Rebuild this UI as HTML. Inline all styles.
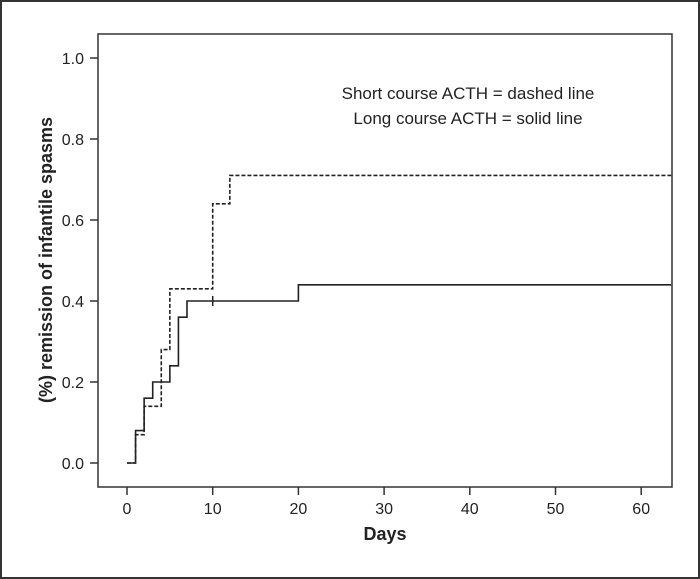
<!DOCTYPE html>
<html><head><meta charset="utf-8"><style>
html,body{margin:0;padding:0;background:#fff}
svg{display:block}
text{font-family:"Liberation Sans",sans-serif;fill:#222}
</style></head><body>
<svg width="700" height="579" viewBox="0 0 700 579">
<rect x="1" y="1" width="698" height="577" fill="#fff" stroke="#333" stroke-width="2"/>
<rect x="98" y="34" width="574" height="453" fill="none" stroke="#333" stroke-width="1.5"/>
<g id="axes"></g>
<g id="series"></g>
<text x="468" y="99" font-size="17" text-anchor="middle">Short course ACTH = dashed line</text>
<text x="468" y="124" font-size="17" text-anchor="middle">Long course ACTH = solid line</text>
<text x="385" y="540" font-size="18" font-weight="bold" text-anchor="middle">Days</text>
<text transform="translate(52,260) rotate(-90)" font-size="18" font-weight="bold" text-anchor="middle">(%) remission of infantile spasms</text>
</svg>
<script>
const xTicks=[0,10,20,30,40,50,60];
const yTicks=[0,0.2,0.4,0.6,0.8,1.0];
const yTickLabels=["0.0","0.2","0.4","0.6","0.8","1.0"];
const longDays=[0,1,2,3,5,6,7,20];
const longVals=[0,0.08,0.16,0.2,0.24,0.36,0.4,0.44];
const shortDays=[0,1,2,4,5,10,12];
const shortVals=[0,0.07,0.14,0.28,0.43,0.64,0.71];
const censorDays=[10];
const censorVals=[0.4];
const xMaxDay=63.5;
const NS="http://www.w3.org/2000/svg";
function sx(d){return 127+d*8.57;}
function sy(v){return 463-v*405;}
const axes=document.getElementById('axes');
const ser=document.getElementById('series');
function mk(tag,attrs,parent){const e=document.createElementNS(NS,tag);for(const k in attrs)e.setAttribute(k,attrs[k]);parent.appendChild(e);return e;}
xTicks.forEach(t=>{
  const l=mk('line',{x1:sx(t),x2:sx(t),y1:487,y2:495,stroke:'#333','stroke-width':1.5},axes);
  
  
  const tx=mk('text',{x:sx(t),y:514,'font-size':16,'text-anchor':'middle'},axes);
  tx.textContent=t;
  
  
});
yTicks.forEach((t,i)=>{
  const l=mk('line',{x1:90,x2:98,y1:sy(t),y2:sy(t),stroke:'#333','stroke-width':1.5},axes);
  
  
  const tx=mk('text',{x:84,y:sy(t)+6,'font-size':16,'text-anchor':'end'},axes);
  tx.textContent=yTickLabels[i];
  
  
});
function stepPath(days,vals){
  let d='M'+sx(days[0])+' '+sy(vals[0]);
  for(let i=1;i<days.length;i++){d+=' H'+sx(days[i])+' V'+sy(vals[i]);}
  d+=' H'+sx(xMaxDay);
  return d;
}
const ps=mk('path',{d:stepPath(shortDays,shortVals),fill:'none',stroke:'#222','stroke-width':1.6,'stroke-dasharray':'4 2'},ser);


const pl=mk('path',{d:stepPath(longDays,longVals),fill:'none',stroke:'#222','stroke-width':1.6},ser);


censorDays.forEach((d,i)=>{
  const c=mk('line',{x1:sx(d),x2:sx(d),y1:sy(censorVals[i])-5,y2:sy(censorVals[i])+5,stroke:'#222','stroke-width':1.5},ser);
  
  
});
</script>
</body></html>
